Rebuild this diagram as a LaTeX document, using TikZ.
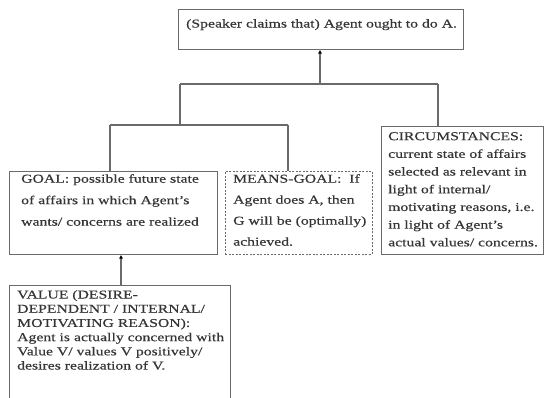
\documentclass[tikz,border=0pt]{standalone}
\usepackage{fontspec}
\setmainfont{Liberation Serif}[FakeStretch=1.31,FakeBold=0.4]
\usetikzlibrary{arrows.meta}
\definecolor{linec}{HTML}{6A6A6A}
\definecolor{txtc}{HTML}{353535}
\begin{document}
\begin{tikzpicture}[x=1pt,y=-1pt,
  box/.style={draw=linec, line width=1.1pt, rectangle, inner sep=0pt, anchor=north west},
  dbox/.style={box, dash pattern=on 2pt off 1.5pt, line width=0.8pt},
  txt/.style={anchor=north west, inner sep=0pt, align=left, text=txtc},
  conn/.style={draw=linec, line width=1.1pt},
  arr/.style={conn, -{Triangle[length=3.5pt,width=3.5pt,color=black]}}]
\useasboundingbox (0,0) rectangle (545,398);
\clip (0,0) rectangle (545,398);
\fill[white] (0,0) rectangle (545,398);
% boxes
\node[box, minimum width=285pt, minimum height=40pt] (top) at (178,9) {};
\node[box, minimum width=208pt, minimum height=83pt] (goal) at (9,171) {};
\node[dbox, minimum width=147pt, minimum height=83pt] (means) at (225,171) {};
\node[box, minimum width=162pt, minimum height=128pt] (circ) at (381,126) {};
\node[box, minimum width=221pt, minimum height=130pt] (value) at (9,285) {};
% texts
\node[txt, font=\fontsize{12}{15}\selectfont] (ttop) at (186,19) {(Speaker claims that) Agent ought to do A.};
\node[txt, font=\fontsize{12}{21.5}\selectfont] (tgoal) at (21,174) {GOAL: possible future state\\of affairs in which Agent’s\\wants/ concerns are realized};
\node[txt, font=\fontsize{12}{21}\selectfont] (tmeans) at (233,174) {MEANS-GOAL:\ \ If\\Agent does A, then\\G will be (optimally)\\achieved.};
\node[txt, font=\fontsize{12}{17.7}\selectfont] (tcirc) at (388,132) {CIRCUMSTANCES:\\current state of affairs\\selected as relevant in\\light of internal/\\motivating reasons, i.e.\\in light of Agent’s\\actual values/ concerns.};
\node[txt, font=\fontsize{12}{14.2}\selectfont] (tvalue) at (17,290) {VALUE (DESIRE-\\DEPENDENT / INTERNAL/\\MOTIVATING REASON):\\Agent is actually concerned with\\Value V/ values V positively/\\desires realization of V.};
% junction coordinates
\coordinate (j1) at (320,84);
\coordinate (jl) at (180,84);
\coordinate (jr) at (438,84);
\coordinate (k1) at (180,125);
\coordinate (kl) at (110,125);
\coordinate (kr) at (288,125);
% connectors
\draw[arr] (j1) -- (j1 |- top.south);
\draw[conn] (jl) -- (jr);
\draw[conn] (jl) -- (k1);
\draw[conn] (kl) -- (kr);
\draw[conn] (kl) -- (kl |- goal.north);
\draw[conn] (kr) -- (kr |- means.north);
\draw[conn] (jr) -- (jr |- circ.north);
\coordinate (v1) at (121,285);
\draw[arr] (v1) -- (v1 |- goal.south);
\end{tikzpicture}
\end{document}
